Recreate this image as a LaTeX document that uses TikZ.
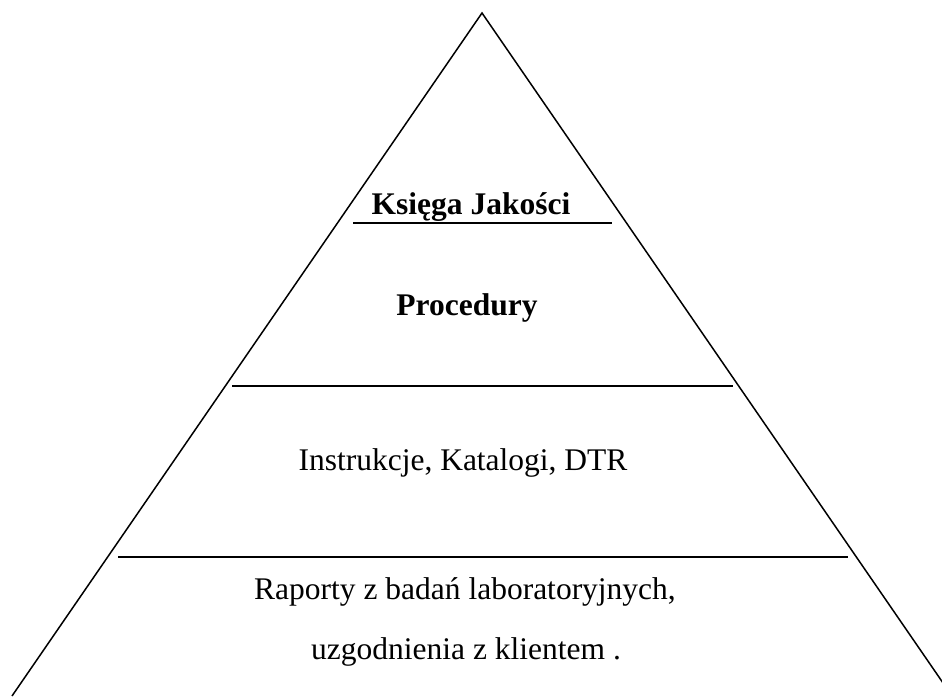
\documentclass[tikz,border=0pt]{standalone}
\usepackage{fontspec}
\setmainfont{Liberation Serif}
\begin{document}
\begin{tikzpicture}[x=1pt,y=1pt,
  edge/.style={line width=1.5pt},
  lbl/.style={font=\fontsize{31.5}{36}\selectfont, inner sep=0pt},
  blbl/.style={font=\fontsize{31.5}{36}\selectfont\bfseries, inner sep=0pt}]
\useasboundingbox (0,0) rectangle (942,696);
\clip (0,0) rectangle (942,696);
\coordinate (apex) at (482,683);
\coordinate (bl) at (12,0);
\coordinate (br) at (952,0);
\draw[edge] (bl) -- (apex) -- (br);
\coordinate (l1a) at (353,473); \coordinate (l1b) at (612,473);
\coordinate (l2a) at (232,310); \coordinate (l2b) at (733,310);
\coordinate (l3a) at (118,139); \coordinate (l3b) at (848,139);
\draw[edge] (l1a) -- (l1b);
\draw[edge] (l2a) -- (l2b);
\draw[edge] (l3a) -- (l3b);
\node[blbl] (kj) at (471,489) {Księga Jakości};
\node[blbl] (pr) at (467,388) {Procedury};
\node[lbl] (ik) at (463,233) {Instrukcje, Katalogi, DTR};
\node[lbl] (r1) at (465,104) {Raporty z badań laboratoryjnych,};
\node[lbl] (r2) at (466,44) {uzgodnienia z klientem .};
\end{tikzpicture}
\end{document}
